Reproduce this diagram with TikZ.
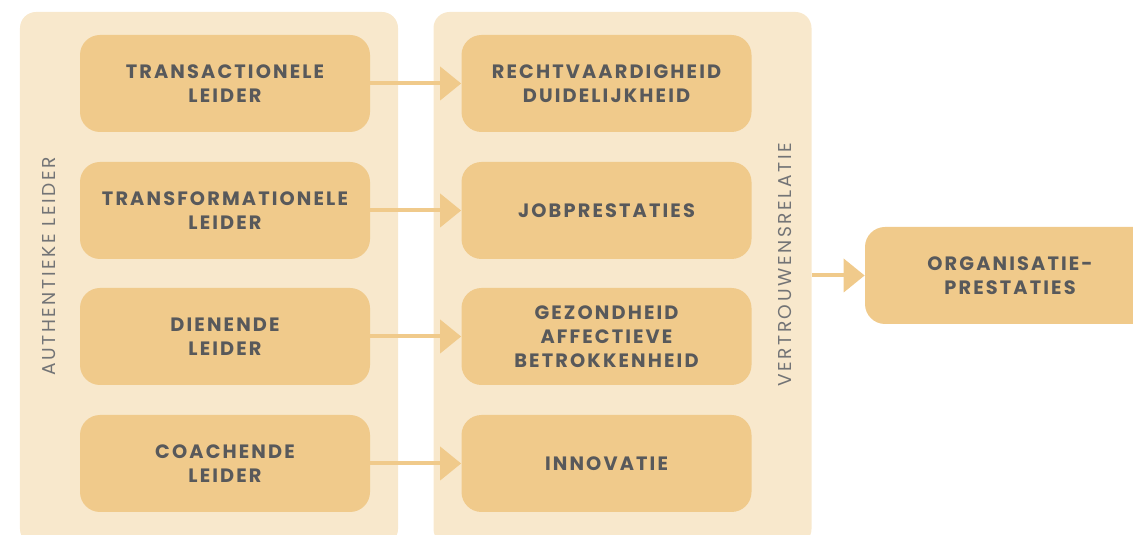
\documentclass[tikz,border=0pt]{standalone}
\usepackage{fontspec}
\newfontfamily\boxfont[LetterSpace=11]{Poppins}
\newfontfamily\sidefont[LetterSpace=14]{Poppins}
\usetikzlibrary{arrows.meta}

\definecolor{panelbg}{HTML}{F8E8CC}
\definecolor{boxfill}{HTML}{F0CA8B}
\definecolor{labelgray}{HTML}{58595B}
\definecolor{sidegray}{HTML}{737476}

\tikzset{
    panel/.style={fill=panelbg, rounded corners=0.32cm, minimum width=7.56cm, minimum height=10.66cm},
    item/.style={fill=boxfill, rounded corners=0.4cm, minimum width=5.8cm, minimum height=1.94cm,
        align=center, text=labelgray, font=\boxfont\bfseries\fontsize{11}{13.7}\selectfont},
    sidelabel/.style={rotate=90, text=sidegray, font=\sidefont\fontsize{10.6}{12}\selectfont},
    flow/.style={line width=0.08cm, boxfill, -{Triangle[length=4.2mm,width=6.6mm]}}
}

\begin{document}
\begin{tikzpicture}
    \useasboundingbox (0,0) rectangle (22.66,10.68);
    \clip (0,0) rectangle (22.66,10.68);
    % two background panels
    \node[panel] (leaders) at (4.18,5.11) {};
    \node[panel] (outcomes) at (12.45,5.11) {};
    \node[sidelabel] (authentic) at (0.99,5.35) {AUTHENTIEKE LEIDER};
    \node[sidelabel] (trust) at (15.70,5.38) {VERTROUWENSRELATIE};
    %
    \node[item] (transact) at (4.50,9.01) {TRANSACTIONELE\\LEIDER};
    \node[item] (transform) at (4.50,6.47) {TRANSFORMATIONELE\\LEIDER};
    \node[item] (serving) at (4.50,3.95) {DIENENDE\\LEIDER};
    \node[item] (coaching) at (4.50,1.41) {COACHENDE\\LEIDER};
    %
    \node[item] (justice) at (12.13,9.01) {RECHTVAARDIGHEID\\DUIDELIJKHEID};
    \node[item] (jobperf) at (12.13,6.47) {JOBPRESTATIES};
    \node[item] (health) at (12.13,3.95) {GEZONDHEID\\AFFECTIEVE\\BETROKKENHEID};
    \node[item] (innov) at (12.13,1.41) {INNOVATIE};
    %
    \node[item] (orgperf) at (20.20,5.17) {ORGANISATIE-\\PRESTATIES};
    %
    \draw[flow] (transact) -- (justice);
    \draw[flow] (transform) -- (jobperf);
    \draw[flow] (serving) -- (health);
    \draw[flow] (coaching) -- (innov);
    \draw[flow] (outcomes.east |- orgperf.west) -- (orgperf);
\end{tikzpicture}
\end{document}
